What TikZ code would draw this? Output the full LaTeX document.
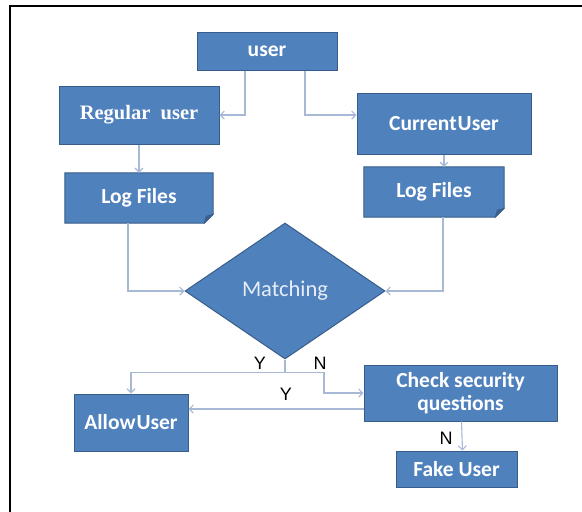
\documentclass[tikz,border=0pt]{standalone}
\usepackage{fontspec}
\usetikzlibrary{arrows.meta,shapes.geometric,calc}
\newfontfamily\carlito{Carlito}
\newfontfamily\libserif{Liberation Serif}
\newfontfamily\libsans{Liberation Sans}
\definecolor{boxfill}{HTML}{4F81BD}
\definecolor{boxline}{HTML}{385D8A}
\definecolor{connc}{HTML}{A7B9D5}
\definecolor{foldc}{HTML}{3C6394}
\pgfdeclarelayer{bottom}
\pgfdeclarelayer{background}
\pgfsetlayers{bottom,background,main}
\tikzset{
  box/.style={rectangle, fill=boxfill, draw=boxline, line width=1pt, text=white,
    font=\carlito\bfseries\fontsize{21.5}{23}\selectfont, inner sep=0pt, align=center},
  logbox/.style={rectangle, inner sep=0pt, text=white,
    font=\carlito\bfseries\fontsize{21.5}{23}\selectfont},
  decision/.style={diamond, aspect=1.47, fill=boxfill, draw=boxline, line width=1pt,
    inner sep=0pt, minimum width=200pt, minimum height=136pt,
    text={rgb,255:red,230;green,237;blue,247}, font=\carlito\fontsize{22.5}{24}\selectfont},
  conn/.style={draw=connc, line width=1.1pt, -{Straight Barb[length=4pt,width=8pt]}},
  lbl/.style={font=\libsans\fontsize{18}{20}\selectfont, text=black, inner sep=0pt}
}
\begin{document}
\begin{tikzpicture}[x=1pt,y=-1pt]
\useasboundingbox (0,0) rectangle (582,512);
\begin{pgfonlayer}{bottom}
\fill[white] (0,0) rectangle (582,512);
\end{pgfonlayer}
\draw[line width=2.5pt, line cap=rect] (10,512) -- (10,6) -- (582,6);

% nodes
\node[box, minimum width=140pt, minimum height=38pt] (user) at (267,51) {user};
\node[box, minimum width=160pt, minimum height=58pt, font=\libserif\bfseries\fontsize{20.5}{23}\selectfont] (reg) at (139,115) {Regular\ \ user};
\node[box, minimum width=174pt, minimum height=61pt] (cur) at (444,123.5) {Current\hspace{1pt}User};
\node[logbox, minimum width=148pt, minimum height=50pt] (log1) at (139,198) {Log Files};
\node[logbox, minimum width=140pt, minimum height=50pt] (log2) at (434,192) {Log Files};
\node[decision] (dia) at (285,291) {Matching};
\node[box, minimum width=193pt, minimum height=56pt] (check) at (460.5,393) {Check security\\questions};
\node[box, minimum width=114pt, minimum height=57pt] (allow) at (131,422.5) {Allow\hspace{1pt}User};
\node[box, minimum width=121pt, minimum height=36pt] (fake) at (456.5,469) {Fake User};

% folded log boxes
\begin{pgfonlayer}{background}
\foreach \n in {log1,log2}{
  \filldraw[fill=boxfill, draw=boxline, line width=1pt]
    (\n.north west) -- (\n.north east) -- ([yshift=9pt]\n.south east)
    -- ([xshift=-9pt]\n.south east) -- (\n.south west) -- cycle;
  \filldraw[fill=foldc, draw=boxline, line width=0.6pt]
    ([yshift=9pt]\n.south east) -- ([xshift=-9pt]\n.south east)
    -- ([xshift=-7pt,yshift=7pt]\n.south east) -- cycle;
}
\end{pgfonlayer}

% connectors
\draw[conn] ([xshift=-22pt]user.south) |- (reg.east);
\draw[conn] ([xshift=38pt]user.south) |- (cur.west |- reg.east);
\draw[conn] (reg.south) -- (log1.north);
\draw[conn] (cur.south) -- (cur.south |- log2.north);
\draw[conn] ([xshift=-11pt]log1.south) |- (dia.west);
\draw[conn] ([xshift=9pt]log2.south) |- (dia.east);
\coordinate (j) at ($(dia.south)+(0,13)$);
\coordinate (k) at ($(j)+(39,0)$);
\draw[draw=connc, line width=1.1pt] (dia.south) -- (j);
\draw[conn] (j) -| (allow.north);
\draw[conn] (j) -- (k) |- (check.west);
\draw[conn] ([yshift=-16pt]check.west) -- ([yshift=-16pt]check.west -| allow.east);
\draw[conn] ([xshift=1pt]check.south) -- ([xshift=6pt]fake.north);

% labels
\node[lbl] (y1) at (260,363) {Y};
\node[lbl] (n1) at (320,363) {N};
\node[lbl] (y2) at (286,394) {Y};
\node[lbl] (n2) at (446,438) {N};
\end{tikzpicture}
\end{document}
